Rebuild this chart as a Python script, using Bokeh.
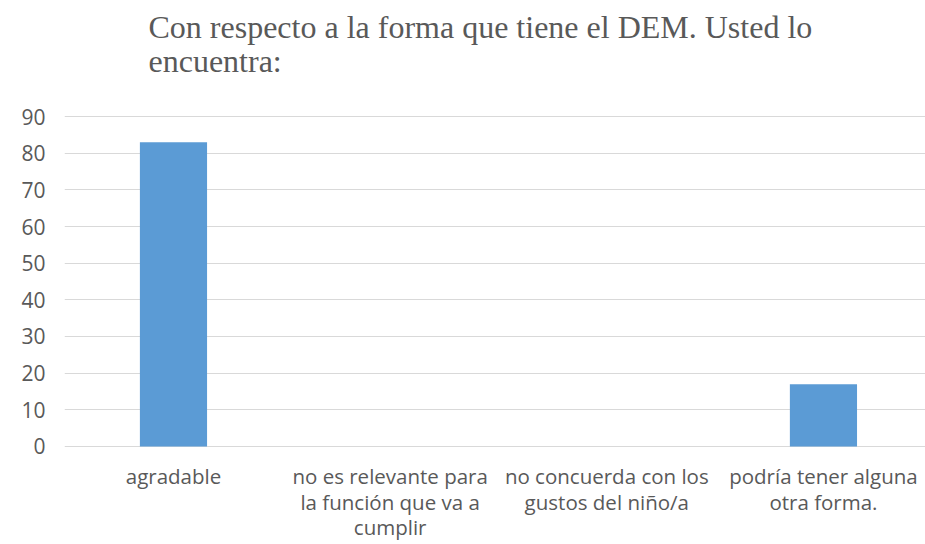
from bokeh.plotting import figure
from bokeh.models import Range1d, FixedTicker, Label
from bokeh.core.properties import value
from bokeh.embed import file_html
from bokeh.resources import INLINE

categories = [
    "agradable",
    "no es relevante para\nla función que va a\ncumplir",
    "no concuerda con los\ngustos del niño/a",
    "podría tener alguna\notra forma.",
]
values = [83, 0, 0, 17]
y_ticks = [0, 10, 20, 30, 40, 50, 60, 70, 80, 90]
title_text = "Con respecto a la forma que tiene el DEM. Usted lo\nencuentra:"

TEXT = "#595959"
GRID = "#D9D9D9"
BAR = "#5B9BD5"

xs = list(range(len(categories)))

# frame fills the canvas vertically; the value axis runs 0..90 within it
p = figure(width=925, height=544, output_backend="svg", toolbar_location=None,
           x_range=Range1d(-0.503, 3.471), y_range=Range1d(-26.73, 121.64),
           min_border_left=64, min_border_right=0, min_border_top=0,
           min_border_bottom=0, outline_line_color=None)

p.vbar(x=xs, top=values, width=0.31, color=BAR, line_color=None)

# category labels under the baseline
p.text(x=xs, y=[0] * len(xs), text=categories, y_offset=16,
       text_align="center", text_baseline="top",
       text_font=value("Open Sans"), text_font_size="20.5px",
       text_color=TEXT, text_line_height=0.9)

title = Label(x=148, y=8, x_units="canvas", y_units="canvas", text=title_text,
              text_align="left", text_baseline="top",
              text_font="Liberation Serif", text_font_size="32px",
              text_color=TEXT, text_line_height=0.97)
p.add_layout(title)

p.xaxis.visible = False

p.yaxis.ticker = FixedTicker(ticks=y_ticks)
p.yaxis.axis_line_color = None
p.yaxis.major_tick_line_color = None
p.yaxis.minor_tick_line_color = None
p.yaxis.major_label_text_font = "Open Sans"
p.yaxis.major_label_text_font_size = "21px"
p.yaxis.major_label_text_color = TEXT
p.yaxis.major_label_standoff = 19
p.yaxis.major_tick_out = 0
p.yaxis.major_tick_in = 0

p.xgrid.grid_line_color = None
p.ygrid.grid_line_color = GRID
p.ygrid.ticker = FixedTicker(ticks=y_ticks)

open("out.html", "w").write(file_html(p, INLINE))
